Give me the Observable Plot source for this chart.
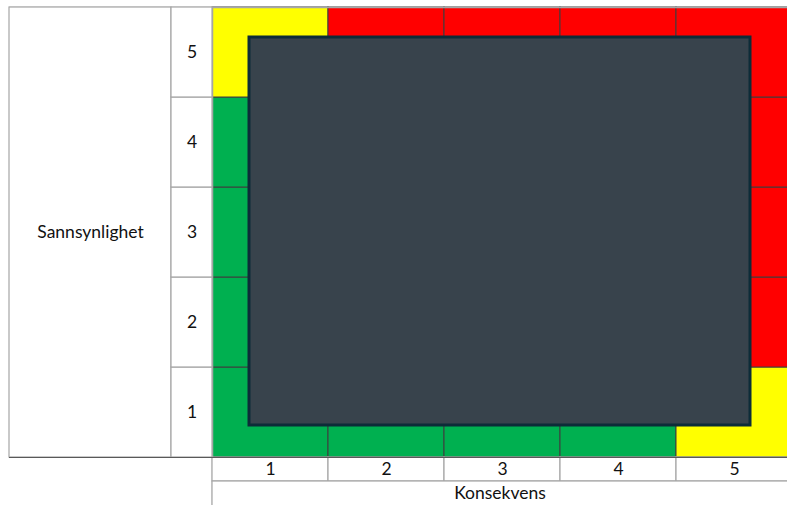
<!DOCTYPE html>
<html>
<head>
<meta charset="utf-8">
<script src="https://cdn.jsdelivr.net/npm/d3@7"></script>
<script src="https://cdn.jsdelivr.net/npm/@observablehq/plot@0.6"></script>
<style>
  html, body { margin: 0; padding: 0; background: #fff; }
  #chart svg { display: block; }
</style>
</head>
<body>
<div id="chart"></div>
<script>
// Data
const consequences = [1, 2, 3, 4, 5];      // Konsekvens (columns)
const probabilities = [1, 2, 3, 4, 5];     // Sannsynlighet (rows)
const xTitle = "Konsekvens";
const yTitle = "Sannsynlighet";
// risk level per row (probability 5 -> 1), per column (consequence 1 -> 5)
const riskRow5 = ["high-mid", "high", "high", "high", "high"];
const riskRow4 = ["low", "mid", "high", "high", "high"];
const riskRow3 = ["low", "mid", "mid", "high", "high"];
const riskRow2 = ["low", "low", "mid", "mid", "high"];
const riskRow1 = ["low", "low", "low", "low", "mid"];
const riskLevels = ["low", "mid", "high-mid", "high"];
const riskColors = ["#00b050", "#ffff00", "#ffff00", "#ff0000"];

const rowsByProb = {5: riskRow5, 4: riskRow4, 3: riskRow3, 2: riskRow2, 1: riskRow1};
const cells = [];
for (const p of probabilities) {
  consequences.forEach((c, i) => cells.push({c, p, risk: rowsByProb[p][i]}));
}

// Layout (pixels)
const W = 787, H = 505;
const gridLeft = 212, colW = 116, gridTop = 7, rowH = 90;
const gridBottom = gridTop + 5 * rowH;          // 457
const labelColLeft = 171, titleBoxLeft = 9;
const stripH = 24;
const px2x = p => (p - gridLeft) / colW;
const px2y = p => (gridBottom - p) / rowH;

const gray = "#a6a6a6";
const dark = "#3f3f3f";
const font = "Lato, 'Open Sans', sans-serif";
const fs = 17.5;

// redaction box (in pixels)
const box = {l: 249, r: 750, t: 37, b: 425};

const chart = Plot.plot({
  width: W,
  height: H,
  margin: 0,
  style: {fontFamily: font, background: "#fff"},
  x: {type: "linear", domain: [0, 5], range: [gridLeft, gridLeft + 5 * colW], axis: null},
  y: {type: "linear", domain: [0, 5], range: [gridBottom, gridTop], axis: null},
  color: {domain: riskLevels, range: riskColors},
  marks: [
    // risk cells
    Plot.rect(cells, {
      x1: d => d.c - 1, x2: d => d.c, y1: d => d.p - 1, y2: d => d.p,
      fill: "risk", stroke: dark, strokeWidth: 1
    }),
    // outer grid border (gray top and left)
    Plot.ruleY([5], {x1: px2x(titleBoxLeft), x2: px2x(W + 10), stroke: gray, strokeWidth: 1.5}),
    Plot.ruleX([0], {y1: px2y(H + 10), y2: 5, stroke: gray, strokeWidth: 1.5}),
    // title box for y
    Plot.rect([yTitle], {
      x1: px2x(titleBoxLeft), x2: px2x(labelColLeft), y1: 0, y2: 5,
      fill: "white", stroke: gray, strokeWidth: 1.2
    }),
    Plot.text([yTitle], {
      x: (px2x(titleBoxLeft) + px2x(labelColLeft)) / 2, y: 2.5,
      text: d => d, fontSize: fs, fill: "#111"
    }),
    // row label column
    Plot.rect(probabilities, {
      x1: px2x(labelColLeft), x2: 0, y1: d => d - 1, y2: d => d,
      fill: "white", stroke: gray, strokeWidth: 1.2
    }),
    Plot.text(probabilities, {
      x: px2x(labelColLeft) / 2, y: d => d - 0.5, text: d => String(d), fontSize: fs, fill: "#111"
    }),
    // bottom column labels
    Plot.rect(consequences, {
      x1: d => d - 1, x2: d => d, y1: px2y(gridBottom + stripH), y2: 0,
      fill: "white", stroke: gray, strokeWidth: 1.2
    }),
    Plot.text(consequences, {
      x: d => d - 0.5, y: px2y(gridBottom + stripH / 2), text: d => String(d), fontSize: fs, fill: "#111"
    }),
    // x title strip
    Plot.rect([xTitle], {
      x1: 0, x2: 5, y1: px2y(H + 10), y2: px2y(gridBottom + stripH),
      fill: "white", stroke: gray, strokeWidth: 1.2
    }),
    Plot.text([xTitle], {
      x: px2x((gridLeft + W) / 2), y: px2y(gridBottom + stripH + 12), text: d => d, fontSize: fs, fill: "#111"
    }),
    Plot.ruleY([0], {x1: px2x(titleBoxLeft), x2: px2x(W + 10), stroke: "#595959", strokeWidth: 1.2}),
    // dark redaction box
    Plot.rect([box], {
      x1: d => px2x(d.l), x2: d => px2x(d.r), y1: d => px2y(d.b), y2: d => px2y(d.t),
      fill: "#38434c", stroke: "#0d2c38", strokeWidth: 3
    })
  ]
});

document.getElementById("chart").append(chart);
</script>
</body>
</html>
